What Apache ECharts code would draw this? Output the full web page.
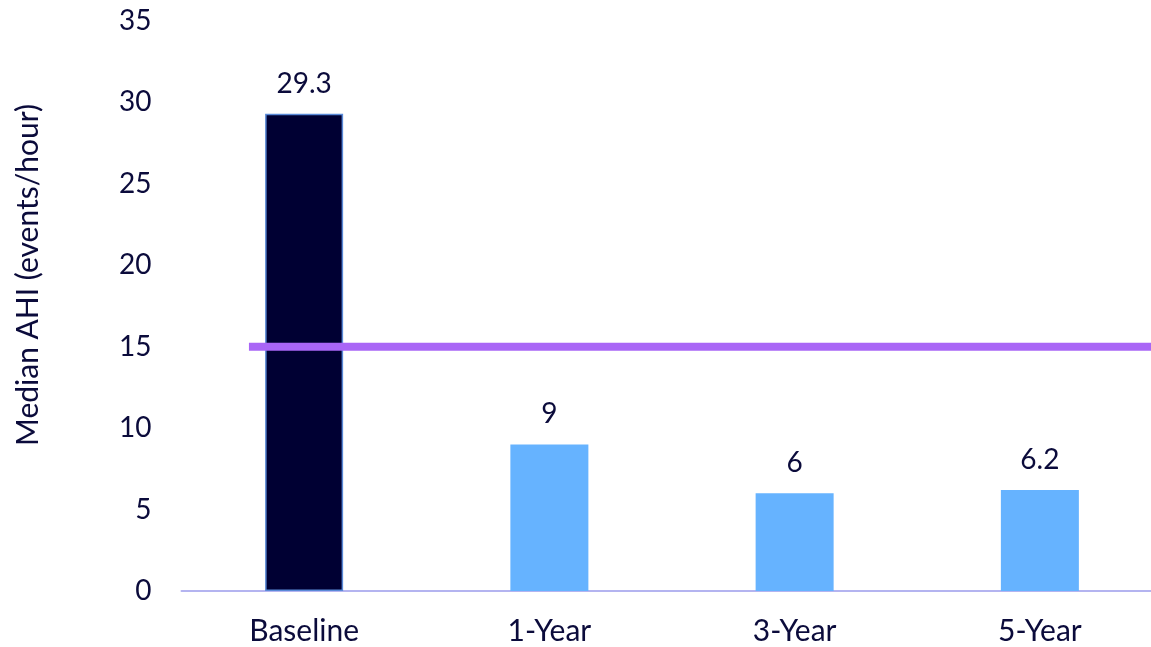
<!DOCTYPE html>
<html><head><meta charset="utf-8">
<script src="https://cdn.jsdelivr.net/npm/echarts@6/dist/echarts.min.js"></script>
<style>html,body{margin:0;padding:0;background:#fff}#c{width:1151px;height:647px}</style>
</head><body><div id="c"></div>
<script>
const categories = ['Baseline', '1-Year', '3-Year', '5-Year'];
const values = [29.3, 9, 6, 6.2];
const threshold = 15;
const thresholdStart = 0.275; // fraction of first category band where line begins
const yTicks = [0, 5, 10, 15, 20, 25, 30, 35];

const txt = '#0b0b3b';
const font = 'Lato';
const fs = 28;
const chart = echarts.init(document.getElementById('c'));
chart.setOption({
  animation: false,
  grid: { left: 181.5, width: 981, top: 21, bottom: 56, containLabel: false, outerBoundsMode: 'none' },
  xAxis: [{
    type: 'category', data: categories,
    axisLine: { lineStyle: { color: '#b4b4f0', width: 2 } },
    axisTick: { show: false },
    axisLabel: { color: txt, fontFamily: font, fontSize: 30, margin: 25 }
  }, {
    type: 'value', min: 0, max: categories.length, show: false
  }],
  yAxis: {
    type: 'value', min: yTicks[0], max: yTicks[yTicks.length - 1], interval: 5,
    name: 'Median AHI (events/hour)', nameLocation: 'middle', nameGap: 138,
    nameTextStyle: { color: txt, fontFamily: font, fontSize: 30, padding: [0, 0, 0, 62] },
    axisLine: { show: false }, axisTick: { show: false }, splitLine: { show: false },
    axisLabel: { color: txt, fontFamily: font, fontSize: fs, margin: 30 }
  },
  series: [{
    type: 'bar', data: values.map((v, i) => i === 0 ? {
      value: v, itemStyle: { color: '#000033', borderColor: '#5a8ad8', borderWidth: 1.5 }
    } : { value: v, itemStyle: { color: '#66b3ff' } }),
    barWidth: 78,
    label: { show: true, position: 'top', distance: 16, color: txt, fontFamily: font, fontSize: fs }
  }, {
    type: 'line', xAxisIndex: 1, symbol: 'none',
    data: [[thresholdStart, threshold], [categories.length, threshold]],
    lineStyle: { color: '#a966f6', width: 8 }, z: 5
  }]
});
</script></body></html>
